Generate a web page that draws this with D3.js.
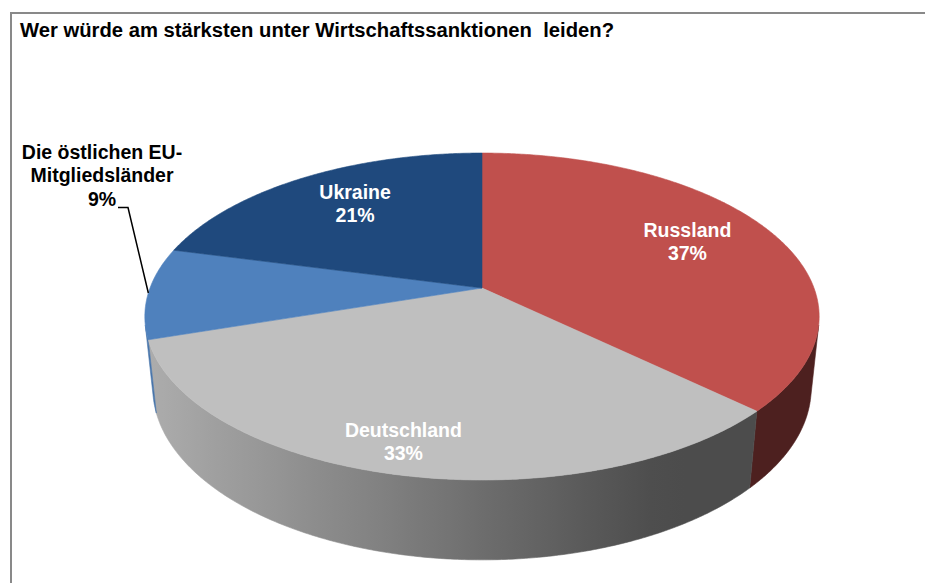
<!DOCTYPE html>
<html>
<head>
<meta charset="utf-8">
<script src="https://cdn.jsdelivr.net/npm/d3@7"></script>
<style>
  html, body { margin: 0; padding: 0; background: #ffffff; }
  svg { display: block; }
  text { font-family: "Liberation Sans", Arial, sans-serif; font-weight: bold; }
</style>
</head>
<body>
<svg id="chart" width="925" height="583"></svg>
<script>
// ---- data ----
const title = "Wer würde am stärksten unter Wirtschaftssanktionen  leiden?";
const categories = ["Russland", "Deutschland", "Die östlichen EU-Mitgliedsländer", "Ukraine"];
const values = [37, 33, 9, 21];
const palette = ["#c0504d", "#bfbfbf", "#4f81bd", "#1f497d"];

// ---- setup ----
const W = 925, H = 583;
const svg = d3.select("#chart");
svg.append("rect").attr("width", W).attr("height", H).attr("fill", "#fff");

// chart area border (only left + top visible in frame)
svg.append("path")
  .attr("d", `M11,${H + 5} L11,13 L${W + 5},13`)
  .attr("fill", "none").attr("stroke", "#898989").attr("stroke-width", 2);

svg.append("text")
  .attr("x", 20).attr("y", 37)
  .attr("font-size", 19.5)
  .attr("textLength", 594).attr("lengthAdjust", "spacingAndGlyphs")
  .attr("xml:space", "preserve")
  .style("white-space", "pre")
  .attr("fill", "#000")
  .text(title);

// ---- perspective projection of a horizontal disc ----
const cx = 482, cy = 288;
const D = 5.04, F = 332 * 5.04;
const sa = 0.4774, ca = Math.sqrt(1 - sa * sa);
const T = 0.248; // thickness

function proj(theta, r, z) {
  const X = r * Math.sin(theta), Y = -r * Math.cos(theta);
  const depth = D - Y * ca - z * sa;
  return [cx + F * X / depth, cy + F * (Y * sa - z * ca) / depth];
}

const color = d3.scaleOrdinal().domain(categories).range(palette);
const pie = d3.pie().sort(null).value(d => d.value).startAngle(0).endAngle(2 * Math.PI);
const data = categories.map((c, i) => ({ name: c, value: values[i] }));
const arcs = pie(data);

// ---- sides (front-facing outer wall only), shaded with a horizontal gradient ----
const visLimit = 1 / (D * ca);
const thMin = Math.PI - Math.acos(visLimit), thMax = Math.PI + Math.acos(visLimit);
const shade = X => Math.max(0.40, 0.573 - 0.333 * X);
const step = Math.PI / 360;
const xL = cx - 337, xR = cx + 337;
const defs = svg.append("defs");
const sideG = svg.append("g");
arcs.forEach((a, k) => {
  const s = Math.max(a.startAngle, thMin), e = Math.min(a.endAngle, thMax);
  if (e <= s) return;
  const base = d3.rgb(color(a.data.name));
  const gid = "side" + k;
  const grad = defs.append("linearGradient").attr("id", gid)
    .attr("gradientUnits", "userSpaceOnUse")
    .attr("x1", xL).attr("y1", 0).attr("x2", xR).attr("y2", 0);
  d3.range(0, 1.0001, 0.05).forEach(t => {
    const f = shade(-1 + 2 * t);
    grad.append("stop").attr("offset", t)
      .attr("stop-color", d3.rgb(base.r * f, base.g * f, base.b * f).formatHex());
  });
  const n = Math.max(2, Math.ceil((e - s) / step));
  const topPts = d3.range(n + 1).map(i => proj(s + (e - s) * i / n, 1, 0));
  const botPts = d3.range(n + 1).map(i => proj(s + (e - s) * i / n, 1, -T)).reverse();
  const pts = topPts.concat(botPts);
  sideG.append("path")
    .attr("d", "M" + pts.map(p => p.join(",")).join("L") + "Z")
    .attr("fill", `url(#${gid})`).attr("stroke", `url(#${gid})`).attr("stroke-width", 0.6);
});

// ---- top faces ----
const topG = svg.append("g");
arcs.forEach(a => {
  const n = Math.max(4, Math.ceil((a.endAngle - a.startAngle) / step));
  const pts = [[cx, cy]];
  for (let i = 0; i <= n; i++) {
    pts.push(proj(a.startAngle + (a.endAngle - a.startAngle) * i / n, 1, 0));
  }
  const c = color(a.data.name);
  topG.append("path")
    .attr("d", "M" + pts.map(p => p.join(",")).join("L") + "Z")
    .attr("fill", c).attr("stroke", c).attr("stroke-width", 0.6).attr("stroke-linejoin", "round");
});

// ---- labels ----
const fs = 19.5, lh = 22.8;
const labelG = svg.append("g").attr("font-size", fs).attr("text-anchor", "middle");
const pct = d => d.value + "%";

arcs.forEach(a => {
  const mid = (a.startAngle + a.endAngle) / 2;
  if (a.data.name.startsWith("Die")) {
    // outside label with leader line
    const lines = ["Die östlichen EU-", "Mitgliedsländer", pct(a.data)];
    const lx = 102, ly = 159;
    lines.forEach((t, i) => labelG.append("text").attr("x", lx).attr("y", ly + i * 23.3).attr("fill", "#000").text(t));
    const end = proj(mid, 1, 0);
    svg.append("path")
      .attr("d", `M118,207.5L128,207.5L${end[0]},${end[1]}`)
      .attr("fill", "none").attr("stroke", "#000").attr("stroke-width", 1.5);
  } else {
    let [x, y] = proj(mid, 0.7, 0);
    if (a.data.name === "Deutschland") { x -= 21; y += 35; }
    if (a.data.name === "Russland") { x += 2; }
    if (a.data.name === "Ukraine") { x += 3; }
    labelG.append("text").attr("x", x).attr("y", y - 9).attr("fill", "#fff").text(a.data.name);
    labelG.append("text").attr("x", x).attr("y", y - 9 + lh).attr("fill", "#fff").text(pct(a.data));
  }
});
</script>
</body>
</html>
